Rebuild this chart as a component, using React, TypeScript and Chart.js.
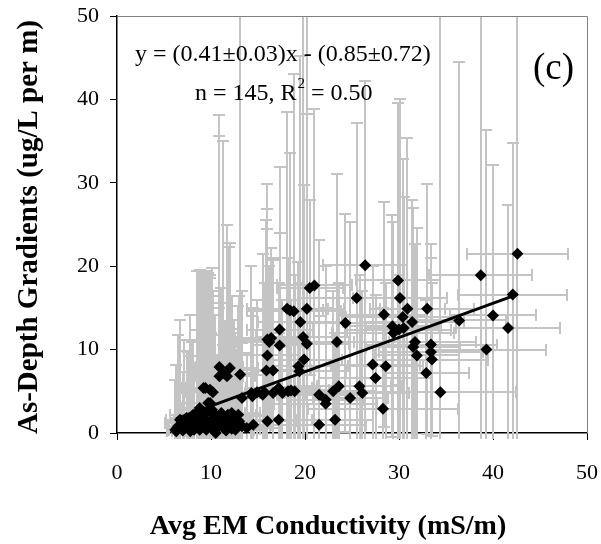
import React, { useEffect, useRef } from "react";
import { Chart, registerables } from "chart.js";

Chart.register(...registerables);

const FONT = '"Liberation Serif", "Times New Roman", Times, serif';

// ---- data ----
const conductivity = [
  42.6, 38.7, 42.1, 40.0, 41.6, 39.3, 36.4, 34.4, 26.4, 29.9,
  30.1, 25.5, 30.9, 33.0, 28.4, 30.4, 31.4, 29.3, 29.4, 30.5,
  24.3, 23.4, 31.7, 31.5, 33.4, 33.4, 31.9, 33.5, 32.9, 27.2,
  28.6, 27.5, 28.3, 25.8, 26.1, 24.8, 23.6, 23.0, 22.2, 22.2,
  21.5, 23.2, 21.5,
  20.5, 21.0, 18.1, 18.4, 18.8, 20.2, 19.5, 17.3, 19.8, 20.2,
  16.0, 16.4, 17.3, 16.0, 15.9, 16.6, 19.9, 19.3, 19.4, 10.9,
  12.0, 10.9, 11.7, 13.1, 9.4, 9.9, 10.2, 13.3, 14.3, 14.9,
  15.5, 14.4, 16.6, 17.2, 17.6, 18.2, 18.9, 17.2, 16.0, 14.5,
  6.3, 6.5, 6.7, 7.8, 7.8, 8.5, 8.8, 9.2, 9.9, 9.5, 10.2, 9.9, 9.5, 10.2, 10.8, 11.0, 11.1, 11.8, 12.2, 12.6, 12.9,
  8.8, 8.2, 7.1, 8.6, 10.5,
  11.3,
  8.1, 9.2, 10.4, 7.4, 8.5, 10.6, 11.5, 12.7, 13.3,
  6.2, 9.5, 11.3, 12.2, 13.8,
  8.8, 10.1, 9.7, 9.2, 12.2,
  7.5, 9.0, 10.0, 11.6, 12.4, 13.0,
  7.0, 8.0, 9.3, 10.8, 11.9,
  15.7, 18.5, 16.2, 30.0, 12.5,
];

const gradient = [
  21.5, 18.9, 16.6, 14.1, 12.6, 10.0, 13.5, 4.9, 20.1, 18.3,
  16.2, 16.2, 14.9, 14.9, 14.2, 13.9, 13.3, 12.8, 12.0, 12.6,
  13.2, 10.9, 10.9, 10.3, 10.6, 9.7, 9.3, 8.8, 7.2, 8.2,
  8.0, 6.6, 2.9, 5.6, 4.8, 4.2, 5.6, 5.0, 4.0, 3.5,
  4.6, 1.6, 1.0,
  17.4, 17.7, 14.9, 14.7, 14.6, 14.9, 13.3, 12.4, 11.5, 10.7,
  11.2, 11.4, 10.5, 9.3, 7.5, 7.5, 8.8, 8.0, 7.4, 7.9,
  7.8, 6.8, 6.8, 7.0, 5.4, 5.2, 4.9, 4.2, 4.8, 4.9,
  4.6, 4.4, 4.8, 5.4, 4.8, 5.0, 5.0, 1.6, 1.4, 1.0,
  0.2, 0.8, 1.6, 0.2, 1.2, 0.8, 3.0, 1.8, 3.6, 2.4, 2.4, 1.4, 0.4, 0.4, 0.8, 1.6, 2.4, 2.2, 1.0, 0.4, 2.2,
  0.4, 0.4, 1.2, 1.6, 0.0,
  7.2,
  2.2, 2.2, 2.2, 1.8, 1.4, 1.4, 1.4, 1.0, 0.8,
  0.4, 0.6, 0.6, 0.5, 0.6,
  2.8, 2.8, 3.6, 5.4, 2.4,
  0.7, 1.0, 1.0, 0.3, 1.6, 1.4,
  0.3, 0.9, 1.2, 2.0, 0.8,
  4.9, 5.1, 10.9, 12.4, 2.0,
];

const conductivityErr = [
  5.4, 5.5, 5.8, 4.6, 5.5, 6.3, 5.0, 8.0, 4.5, 4.5,
  5.0, 6.0, 4.0, 5.0, 4.5, 6.0, 5.5, 5.0, 6.5, 4.0,
  5.0, 5.5, 6.5, 5.0, 7.0, 5.5, 4.5, 6.0, 4.5, 5.0,
  4.0, 6.0, 8.0, 4.5, 5.0, 4.0, 5.5, 4.5, 4.0, 5.5,
  4.5, 4.0, 5.0,
  3.5, 4.0, 4.3, 3.5, 5.0, 4.0, 4.5, 3.5, 5.0, 4.5,
  3.5, 4.0, 3.0, 3.5, 3.0, 4.0, 4.0, 3.5, 5.0, 2.5,
  3.0, 2.5, 3.0, 3.5, 2.5, 2.5, 3.0, 3.0, 3.5, 3.0,
  4.0, 3.0, 3.5, 3.5, 4.0, 4.5, 4.0, 3.5, 3.0, 3.0,
  1.0, 1.2, 1.5, 2.0, 2.0, 2.5, 2.0, 3.0, 2.5, 3.0, 2.5, 3.5, 2.0, 3.0, 2.5, 3.0, 2.5, 3.0, 2.5, 3.0, 3.5,
  2.0, 1.5, 2.0, 2.5, 2.0,
  3.0,
  2.5, 3.0, 4.0, 1.8, 2.0, 3.0, 3.0, 2.5, 3.0,
  0.8, 2.5, 2.5, 3.0, 3.5,
  2.5, 3.0, 3.5, 2.0, 3.0,
  2.0, 2.5, 2.0, 3.0, 3.5, 3.0,
  1.5, 2.0, 2.5, 2.5, 3.0,
  3.0, 4.0, 3.5, 5.5, 3.0,
];

const gradientErr = [
  31, 33, 18.2, 18.0, 14.7, 26.3, 31.0, 46, 22.1, 21.3,
  23.8, 21.0, 20.5, 15.0, 13.5, 18.9, 14.6, 13.3, 13.3, 15.7,
  13.1, 20.2, 11.8, 16.7, 12.1, 11.3, 15.3, 9.2, 8.8, 11.8,
  10, 9.9, 12.1, 13.4, 12.2, 21.1, 12.4, 12, 16, 11.5,
  18.5, 10.4, 13,
  10.5, 21.1, 23.6, 18.9, 28.5, 36, 31.9, 19.5, 40, 27.6,
  18.7, 10.8, 13.5, 17.6, 18, 13.5, 20.9, 12.5, 10.6, 30.2,
  15, 28.8, 18.1, 44, 14, 13.8, 12.1, 12.8, 15.2, 11.1,
  16.9, 9.6, 15.9, 12.6, 11.2, 16, 14, 10.4, 23.1, 14,
  8, 11, 12, 9, 13, 18.6, 16.4, 17.4, 15, 16.8, 14, 12, 10, 9, 11, 14, 15, 20.1, 11, 8, 13,
  12, 8, 10, 17.8, 7,
  27.8,
  9, 10, 12, 8, 11, 8, 12, 9, 10,
  6, 13, 10, 12, 9,
  16.8, 17.0, 15.6, 13.6, 14,
  9, 18.4, 11, 9, 12, 15,
  7, 10, 18.2, 13, 21.5,
  13.1, 10.9, 9.1, 6.6, 10,
];

// regression fit y = slope*x + intercept over the observed range
const fitSlope = 0.41;
const fitIntercept = -0.85;
const fitRange = [6.3, 42.6];

const xTickValues = [0, 10, 20, 30, 40, 50];
const yTickValues = [0, 10, 20, 30, 40, 50];

const equationText = "y = (0.41\u00b10.03)x - (0.85\u00b10.72)";
const statsTextA = "n = 145, R";
const statsSup = "2";
const statsTextB = " = 0.50";
const panelLabel = "(c)";
const xTitle = "Avg EM Conductivity (mS/m)";
const yTitle = "As-Depth Gradients (ug/L per m)";

const N = Math.min(conductivity.length, gradient.length, conductivityErr.length, gradientErr.length);

// desired plot rectangle inside the 601x544 canvas
const AREA = { left: 117, top: 16, right: 587, bottom: 433 };

const errorBarPlugin = {
  id: "errorBars",
  beforeDatasetsDraw(chart: any) {
    const { ctx, chartArea, scales } = chart;
    const xs = scales.x;
    const ys = scales.y;
    ctx.save();
    ctx.beginPath();
    ctx.rect(chartArea.left, chartArea.top, chartArea.right - chartArea.left, chartArea.bottom - chartArea.top + 6);
    ctx.clip();
    ctx.strokeStyle = "#c4c4c4";
    ctx.lineWidth = 2;
    const cap = 6;
    for (let i = 0; i < N; i++) {
      const px = Math.round(xs.getPixelForValue(conductivity[i]));
      const py = Math.round(ys.getPixelForValue(gradient[i]));
      const x0 = Math.round(xs.getPixelForValue(conductivity[i] - conductivityErr[i]));
      const x1 = Math.round(xs.getPixelForValue(conductivity[i] + conductivityErr[i]));
      const y0 = Math.round(ys.getPixelForValue(gradient[i] - gradientErr[i]));
      const y1 = Math.round(ys.getPixelForValue(gradient[i] + gradientErr[i]));
      ctx.beginPath();
      ctx.moveTo(x0, py); ctx.lineTo(x1, py);
      ctx.moveTo(x0, py - cap); ctx.lineTo(x0, py + cap);
      ctx.moveTo(x1, py - cap); ctx.lineTo(x1, py + cap);
      ctx.moveTo(px, y0); ctx.lineTo(px, y1);
      ctx.moveTo(px - cap, y0); ctx.lineTo(px + cap, y0);
      ctx.moveTo(px - cap, y1); ctx.lineTo(px + cap, y1);
      ctx.stroke();
    }
    ctx.restore();
  },
  afterDraw(chart: any) {
    const { ctx, chartArea } = chart;
    ctx.save();
    ctx.strokeStyle = "#808080";
    ctx.lineWidth = 1;
    ctx.beginPath();
    ctx.moveTo(chartArea.left, chartArea.top + 0.5);
    ctx.lineTo(chartArea.right + 0.5, chartArea.top + 0.5);
    ctx.lineTo(chartArea.right + 0.5, chartArea.bottom);
    ctx.stroke();

    ctx.fillStyle = "#000";
    ctx.textBaseline = "alphabetic";
    ctx.textAlign = "left";
    ctx.font = `24px ${FONT}`;
    ctx.fillText(equationText, 135, 61);
    let sx = 195;
    ctx.fillText(statsTextA, sx, 100);
    sx += ctx.measureText(statsTextA).width;
    ctx.font = `15px ${FONT}`;
    ctx.fillText(statsSup, sx + 1, 88);
    sx += ctx.measureText(statsSup).width + 1;
    ctx.font = `24px ${FONT}`;
    ctx.fillText(statsTextB, sx, 100);
    ctx.font = `37px ${FONT}`;
    ctx.fillText(panelLabel, 533, 79);

    ctx.font = `bold 28px ${FONT}`;
    ctx.textAlign = "center";
    ctx.fillText(xTitle, 328, 534);

    ctx.save();
    ctx.translate(37, 227);
    ctx.rotate(-Math.PI / 2);
    ctx.font = `bold 29px ${FONT}`;
    ctx.fillText(yTitle, 0, 0);
    ctx.restore();

    ctx.restore();
  },
};

const clearScalePadding = (s: any) => {
  s.paddingLeft = 0;
  s.paddingRight = 0;
  s.paddingTop = 0;
  s.paddingBottom = 0;
};

export default function App() {
  const ref = useRef<HTMLCanvasElement | null>(null);

  useEffect(() => {
    if (!ref.current) return;
    const points = [];
    for (let i = 0; i < N; i++) points.push({ x: conductivity[i], y: gradient[i] });
    const fitLine = fitRange.map((x) => ({ x, y: fitSlope * x + fitIntercept }));

    const axisCommon = {
      type: "linear" as const,
      min: 0,
      max: 50,
      grid: {
        drawOnChartArea: false,
        drawTicks: true,
        tickLength: 7,
        color: "#000",
        lineWidth: 1,
      },
      border: { display: true, color: "#000", width: 1.5 },
    };

    const padding = { left: 0, top: AREA.top, right: 601 - AREA.right, bottom: 0 };

    const chart = new Chart(ref.current, {
      type: "scatter",
      data: {
        datasets: [
          {
            type: "line",
            data: fitLine,
            borderColor: "#000",
            borderWidth: 3,
            pointRadius: 0,
            showLine: true,
            fill: false,
            order: 0,
          } as any,
          {
            type: "scatter",
            data: points,
            pointStyle: "rectRot",
            pointRadius: 6,
            backgroundColor: "#000",
            borderColor: "#000",
            borderWidth: 0,
            clip: false,
            order: 1,
          } as any,
        ],
      },
      options: {
        responsive: false,
        animation: false,
        devicePixelRatio: 1,
        events: [],
        layout: { padding },
        plugins: { legend: { display: false }, tooltip: { enabled: false } },
        scales: {
          x: {
            ...axisCommon,
            position: "bottom",
            afterBuildTicks: (s: any) => { s.ticks = xTickValues.map((v) => ({ value: v })); },
            afterFit: (s: any) => { s.height = 544 - AREA.bottom; clearScalePadding(s); },
            ticks: { color: "#000", font: { family: FONT, size: 22 }, padding: 20, maxRotation: 0 },
          },
          y: {
            ...axisCommon,
            position: "left",
            afterBuildTicks: (s: any) => { s.ticks = yTickValues.map((v) => ({ value: v })); },
            afterFit: (s: any) => { s.width = AREA.left; clearScalePadding(s); },
            ticks: { color: "#000", font: { family: FONT, size: 22 }, padding: 11 },
          },
        },
      } as any,
      plugins: [errorBarPlugin],
    });

    for (let k = 0; k < 4; k++) {
      const a = chart.chartArea;
      const dl = AREA.left - a.left;
      const dt = AREA.top - a.top;
      const dr = a.right - AREA.right;
      const db = a.bottom - AREA.bottom;
      if (Math.abs(dl) < 0.5 && Math.abs(dt) < 0.5 && Math.abs(dr) < 0.5 && Math.abs(db) < 0.5) break;
      padding.left = Math.max(0, padding.left + dl);
      padding.top = Math.max(0, padding.top + dt);
      padding.right = Math.max(0, padding.right + dr);
      padding.bottom = Math.max(0, padding.bottom + db);
      (chart.options as any).layout.padding = { ...padding };
      chart.update();
    }

    return () => chart.destroy();
  }, []);

  return (
    <div style={{ position: "fixed", left: 0, top: 0, width: 601, height: 544, background: "#fff" }}>
      <canvas ref={ref} width={601} height={544} style={{ width: 601, height: 544, display: "block" }} />
    </div>
  );
}
